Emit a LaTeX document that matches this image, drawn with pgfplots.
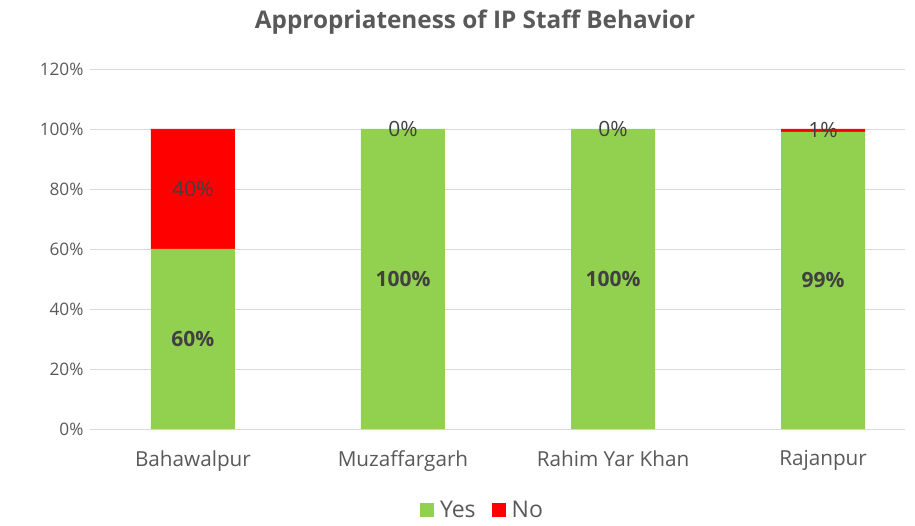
\documentclass[border=0pt]{standalone}
\usepackage{pgfplots}
\pgfplotsset{compat=1.18}
\usepackage{fontspec}
\setmainfont{Open Sans}
\definecolor{cgreen}{HTML}{92D050}
\definecolor{cred}{HTML}{FF0000}
\definecolor{cgrid}{HTML}{D9D9D9}
\definecolor{ctick}{HTML}{595959}
\definecolor{clab}{HTML}{404040}
\begin{document}
\begin{tikzpicture}
\useasboundingbox (0pt,0pt) rectangle (915pt,525pt);
\node[font=\fontsize{24.3}{28}\selectfont\bfseries, text=ctick] at (475pt,503pt) {Appropriateness of IP Staff Behavior};
\begin{axis}[
  at={(90pt,96pt)}, anchor=south west,
  scale only axis, width=815pt, height=360pt,
  ybar stacked, bar width=0.4,
  xmin=-0.49, xmax=3.39,
  ymin=0, ymax=120,
  ytick={0,20,...,120},
  yticklabel={\pgfmathprintnumber{\tick}\%},
  /pgf/number format/assume math mode=true,
  xtick={0,1,2,3},
  xticklabels={Bahawalpur,Muzaffargarh,Rahim Yar Khan,Rajanpur},
  ticklabel style={text=ctick},
  xticklabel style={font=\fontsize{20.7}{24}\selectfont, yshift=-18pt},
  yticklabel style={font=\fontsize{17.2}{20}\selectfont, xshift=-3pt},
  major tick length=0pt,
  ymajorgrids, grid style={cgrid, line width=0.8pt},
  axis x line*=bottom, axis y line*=left,
  x axis line style={color=cgrid, line width=0.8pt, -},
  y axis line style={draw=none},
  legend style={at={(0.4816,-0.226)}, anchor=center, draw=none, legend columns=2,
    font=\fontsize{23}{26}\selectfont, text=ctick, inner sep=0pt,
    /tikz/every odd column/.append style={column sep=4pt},
    /tikz/every even column/.append style={column sep=14pt}},
  legend image code/.code={\fill[#1,draw=none] (0pt,-6.5pt) rectangle (14pt,7.5pt);},
]
\addplot[fill=cgreen, draw=none] coordinates {(0,60) (1,100) (2,100) (3,99)};
\addlegendentry{Yes}
\addplot[fill=cred, draw=none] coordinates {(0,40) (1,0) (2,0) (3,1)};
\addlegendentry{No}
\end{axis}
\begin{axis}[
  at={(90pt,96pt)}, anchor=south west,
  scale only axis, width=815pt, height=360pt,
  xmin=-0.49, xmax=3.39, ymin=0, ymax=120,
  axis lines=none, ticks=none,
  nodes near coords, point meta=explicit symbolic,
  every node near coord/.append style={anchor=center, text=clab, font=\fontsize{21}{24}\selectfont},
]
\addplot[draw=none, mark=none, only marks, every node near coord/.append style={font=\fontsize{21}{24}\selectfont\bfseries}] coordinates {(0,30)[60\%] (1,50)[100\%] (2,50)[100\%] (3,49.5)[99\%]};
\addplot[draw=none, mark=none, only marks] coordinates {(0,80)[40\%] (1,100)[0\%] (2,100)[0\%] (3,99.5)[1\%]};
\end{axis}
\end{tikzpicture}
\end{document}
